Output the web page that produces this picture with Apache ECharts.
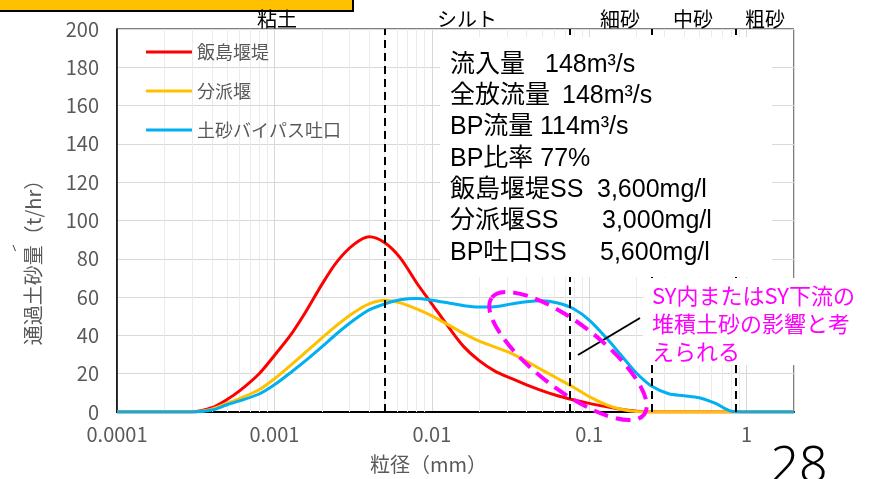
<!DOCTYPE html>
<html>
<head>
<meta charset="utf-8">
<script src="https://cdn.jsdelivr.net/npm/echarts@6/dist/echarts.min.js"></script>
<style>
html, body { margin: 0; padding: 0; background: #fff; }
#chart { width: 874px; height: 479px; }
</style>
</head>
<body>
<div id="chart"></div>
<script>
// 粒径 (mm)
const grainSize = [0.0001, 0.0002, 0.0003, 0.0004, 0.0005, 0.0006, 0.0008, 0.001, 0.0013, 0.0016,
  0.002, 0.0025, 0.0032, 0.004, 0.005, 0.0063, 0.008, 0.01, 0.013, 0.016,
  0.02, 0.025, 0.032, 0.04, 0.05, 0.063, 0.08, 0.1, 0.13, 0.16,
  0.2, 0.25, 0.32, 0.4, 0.5, 0.63, 0.8, 1, 1.3, 1.6, 2];

// 通過土砂量 (t/hr)
const iijimaDam = [0, 0, 0, 2.2, 6.5, 11, 20, 29.5, 41.5, 53,
  66.5, 78.5, 87.5, 91.5, 88.5, 80.5, 67.5, 56.5, 43.5, 34,
  26.8, 21.5, 17.5, 14.2, 11.2, 8.5, 6.3, 4.5, 2.7, 1.4,
  0.4, 0, 0, 0, 0, 0, 0, 0, 0, 0, 0];
const bunpaWeir = [0, 0, 0, 1.5, 4.5, 7, 11.6, 17.3, 25.1, 31.6,
  38.6, 45.4, 52, 56.5, 58.4, 57, 53.8, 50.2, 45.1, 40.9,
  37, 34, 30.6, 26.5, 22, 17.5, 12.8, 8, 3.6, 1.4,
  0.2, 0, 0, 0, 0, 0, 0, 0, 0, 0, 0];
const bypassOutlet = [0, 0, 0, 1, 3.8, 5.8, 9.4, 14.2, 21.3, 27.2,
  34, 41, 48, 53.3, 56.4, 58.6, 59.3, 58.4, 56.8, 55.5,
  54.8, 55, 56.4, 57.6, 58.1, 56.9, 53.8, 48, 38.2, 29.5,
  20.2, 13.4, 9.5, 8.5, 7.4, 4.6, 0.4, 0, 0, 0, 0];

const seriesNames = ['飯島堰堤', '分派堰', '土砂バイパス吐口'];
const seriesColors = ['#FF0000', '#FFC000', '#00B0F0'];

// 粒径区分の境界 (mm)
const boundarySizes = [0.005, 0.075, 0.25, 0.85];
const classLabels = ['粘土', 'シルト', '細砂', '中砂', '粗砂'];
const classLabelX = [277, 467, 620, 693, 765];

const infoLabels = ['流入量', '全放流量', 'BP流量', 'BP比率 77%', '飯島堰堤SS', '分派堰SS', 'BP吐口SS'];
const infoValues = ['148m³/s', '148m³/s', '114m³/s', '', '3,600mg/l', '3,000mg/l', '5,600mg/l'];
const infoValueX = [545, 562, 540, 0, 597, 602, 600];

const noteLines = ['SY内またはSY下流の', '堆積土砂の影響と考', 'えられる'];

// 対数軸の補助目盛線 (2～9 × 10^n)
const minorGrid = [];
for (let e = -4; e <= 0; e++) {
  for (let m = 2; m <= 9; m++) {
    const v = m * Math.pow(10, e);
    if (v < 2) minorGrid.push(+v.toPrecision(3));
  }
}

const CJK = '"Noto Sans CJK JP", "Noto Sans", sans-serif';
const LATIN = '"Liberation Sans", "Noto Sans CJK JP", sans-serif';

const pairs = ys => grainSize.map((x, i) => [x, ys[i]]);
const lineData = [iijimaDam, bunpaWeir, bypassOutlet];

const series = lineData.map((ys, k) => ({
  name: seriesNames[k],
  type: 'line',
  data: pairs(ys),
  smooth: 0.3,
  showSymbol: false,
  symbol: 'none',
  lineStyle: { color: seriesColors[k], width: 3 },
  itemStyle: { color: seriesColors[k] },
  z: 3
}));

// 補助目盛線
series.push({
  type: 'line',
  data: [],
  silent: true,
  markLine: {
    silent: true,
    symbol: 'none',
    precision: 10,
    z: 1,
    label: { show: false },
    lineStyle: { color: '#ebebeb', width: 1, type: 'solid' },
    emphasis: { disabled: true },
    data: minorGrid.map(v => ({ xAxis: v }))
  }
});

// 粒径区分の境界線
series.push({
  type: 'line',
  data: [],
  silent: true,
  markLine: {
    silent: true,
    symbol: 'none',
    precision: 10,
    z: 5,
    label: { show: false },
    lineStyle: { color: '#000', width: 2, type: [8, 5] },
    emphasis: { disabled: true },
    data: boundarySizes.map(v => ({ xAxis: v }))
  }
});

const graphic = [];

// 左上の枠
graphic.push({
  type: 'rect', z: 100,
  shape: { x: -5, y: -5, width: 358, height: 16 },
  style: { fill: '#FFC000', stroke: '#000', lineWidth: 2 }
});

classLabels.forEach((t, i) => {
  graphic.push({
    type: 'text', z: 100, x: classLabelX[i], y: 19,
    style: { text: t, font: '20px ' + CJK, fill: '#000', align: 'center', verticalAlign: 'middle' }
  });
});

// 条件の説明
graphic.push({
  type: 'rect', z: 100,
  shape: { x: 440, y: 37, width: 332, height: 240 },
  style: { fill: '#fff' }
});
infoLabels.forEach((t, i) => {
  const y = 65 + 31.3 * i;
  graphic.push({
    type: 'text', z: 101, x: 450, y: y,
    style: { text: t, font: '25px ' + LATIN, fill: '#000', align: 'left', verticalAlign: 'middle' }
  });
  if (infoValues[i]) {
    graphic.push({
      type: 'text', z: 101, x: infoValueX[i], y: y,
      style: { text: infoValues[i], font: '25px ' + LATIN, fill: '#000', align: 'left', verticalAlign: 'middle' }
    });
  }
});

// 注記
graphic.push({
  type: 'rect', z: 100,
  shape: { x: 643, y: 278, width: 231, height: 87 },
  style: { fill: '#fff' }
});
noteLines.forEach((t, i) => {
  graphic.push({
    type: 'text', z: 101, x: 652, y: 296 + 28 * i,
    style: { text: t, font: '22px ' + CJK, fill: '#FF00FF', align: 'left', verticalAlign: 'middle' }
  });
});
graphic.push({
  type: 'line', z: 102,
  shape: { x1: 578, y1: 355, x2: 640, y2: 318 },
  style: { stroke: '#000', lineWidth: 2 }
});
graphic.push({
  type: 'ellipse', z: 102,
  x: 568, y: 356, rotation: -0.655,
  shape: { cx: 0, cy: 0, rx: 96, ry: 33 },
  style: { fill: 'none', stroke: '#FF00FF', lineWidth: 4, lineDash: [15, 8] }
});

graphic.push({
  type: 'line', z: 100,
  shape: { x1: 13, y1: 245, x2: 15.5, y2: 251 },
  style: { stroke: '#404040', lineWidth: 1 }
});

graphic.push({
  type: 'text', z: 100, x: 799, y: 468,
  style: { text: '28', font: '300 50px "Noto Sans", sans-serif', fill: '#000', align: 'center', verticalAlign: 'middle' }
});

const chart = echarts.init(document.getElementById('chart'), null, { renderer: 'canvas' });
chart.setOption({
  animation: false,
  backgroundColor: '#fff',
  grid: {
    left: 117, right: 80, top: 29, bottom: 66,
    show: true, borderColor: '#000', borderWidth: 1, backgroundColor: 'transparent'
  },
  legend: {
    data: seriesNames,
    orient: 'vertical',
    left: 141, top: 38,
    itemWidth: 46, itemHeight: 3, itemGap: 21,
    icon: 'rect',
    textStyle: { color: '#595959', fontSize: 18, fontFamily: CJK },
    selectedMode: false
  },
  xAxis: {
    type: 'log',
    logBase: 10,
    min: 0.0001,
    max: 2,
    name: '粒径（mm）',
    nameLocation: 'middle',
    nameGap: 42,
    nameTextStyle: { color: '#595959', fontSize: 20, fontFamily: CJK, padding: [0, 54, 0, 0] },
    axisLine: { show: true, lineStyle: { color: '#000', width: 2 } },
    axisTick: { show: false },
    axisLabel: {
      color: '#595959', fontSize: 20, fontFamily: CJK, margin: 12,
      showMaxLabel: false,
      formatter: v => String(parseFloat(Number(v).toPrecision(3)))
    },
    splitLine: { show: true, lineStyle: { color: '#d9d9d9', width: 1 } }
  },
  yAxis: {
    type: 'value',
    min: 0, max: 200, interval: 20,
    name: '通過土砂量（t/hr）',
    nameLocation: 'middle',
    nameGap: 74,
    nameTextStyle: { color: '#595959', fontSize: 20, fontFamily: CJK, padding: [0, 74, 0, 0] },
    axisLine: { show: true, lineStyle: { color: '#000', width: 1.5 } },
    axisTick: { show: false },
    axisLabel: { color: '#595959', fontSize: 20, fontFamily: CJK, margin: 18 },
    splitLine: { show: true, lineStyle: { color: '#d9d9d9', width: 1 } }
  },
  series: series,
  graphic: graphic
});
</script>
</body>
</html>
